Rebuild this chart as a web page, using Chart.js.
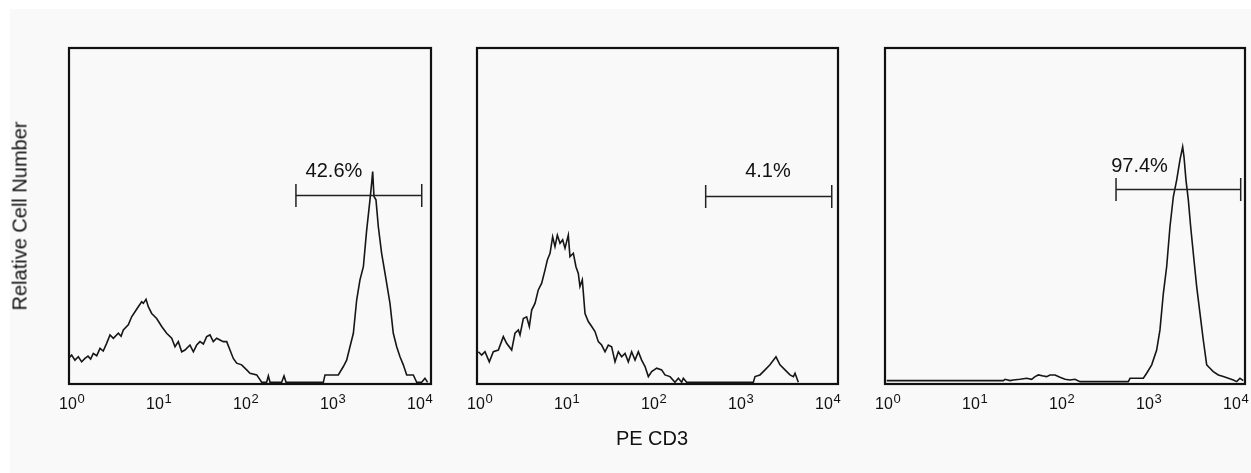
<!DOCTYPE html>
<html><head><meta charset="utf-8">
<script src="https://cdn.jsdelivr.net/npm/chart.js@4/dist/chart.umd.min.js"></script>
<style>
html,body{margin:0;padding:0;background:#fff;}
#fig{position:relative;width:1251px;height:473px;background:#fff;overflow:hidden;font-family:"Liberation Sans",Arial,sans-serif;}
#bg{position:absolute;left:10px;top:9px;right:0;bottom:0;background:#f9f9f9;}
canvas{position:absolute;}
#ytitle{position:absolute;left:20px;top:216px;transform:translate(-50%,-50%) rotate(-90deg);font-size:20px;white-space:nowrap;color:#111;}
#xtitle{position:absolute;left:652px;top:438px;transform:translate(-50%,-50%);font-size:20px;white-space:nowrap;color:#111;}
</style>
</head>
<body>
<div id="fig">
  <div id="bg"></div>
  <canvas id="c1"></canvas>
  <canvas id="c2"></canvas>
  <canvas id="c3"></canvas>
  <div id="ytitle">Relative Cell Number</div>
  <div id="xtitle">PE CD3</div>
</div>
<script>
// ---- data (x in decades of PE CD3 fluorescence, y = relative cell number, 0-100) ----
const tickExponents = [0, 1, 2, 3, 4];
const yAxisTitle = "Relative Cell Number";
const xAxisTitle = "PE CD3";

const p1Decade = [0.020,0.042,0.080,0.119,0.157,0.195,0.230,0.260,0.291,0.330,0.368,0.405,0.444,0.483,0.521,0.579,0.610,0.636,0.693,0.732,0.770,0.808,0.847,0.866,0.897,0.923,0.962,1.019,1.077,1.134,1.192,1.230,1.268,1.307,1.345,1.402,1.441,1.479,1.517,1.556,1.594,1.632,1.670,1.709,1.747,1.785,1.824,1.862,1.900,1.939,1.996,2.054,2.092,2.169,2.226,2.283,2.303,2.322,2.456,2.483,2.506,2.935,2.954,3.107,3.165,3.203,3.241,3.280,3.318,3.356,3.395,3.433,3.471,3.490,3.502,3.517,3.540,3.567,3.605,3.644,3.701,3.739,3.778,3.816,3.854,3.893,3.969,4.008,4.065,4.103,4.134];
const p1Count  = [8.0,8.6,7.1,8.1,6.6,7.6,8.3,7.4,9.1,8.4,10.6,9.8,12.1,14.6,13.6,15.1,14.2,16.1,17.6,20.0,21.5,23.0,24.5,24.0,25.2,23.0,21.0,19.5,17.1,15.1,13.6,11.1,12.6,9.6,10.1,11.6,9.6,11.6,12.6,11.9,14.1,14.6,12.6,13.6,13.1,12.6,12.6,10.1,7.6,6.2,5.7,4.2,3.2,2.7,0.5,0.5,2.4,0.5,0.5,2.4,0.5,0.5,2.7,2.7,5.2,7.1,11.1,15.1,25.0,31.0,34.9,45.8,54.8,59.7,63.2,55.8,54.8,46.8,38.9,32.9,24.0,15.1,11.1,8.1,5.7,2.7,2.7,0.5,0.5,1.7,0.5];

const p2Decade = [0.027,0.065,0.103,0.153,0.199,0.257,0.314,0.352,0.410,0.448,0.487,0.506,0.544,0.582,0.613,0.640,0.678,0.716,0.755,0.793,0.820,0.851,0.881,0.908,0.935,0.966,0.996,1.023,1.061,1.080,1.119,1.149,1.176,1.195,1.222,1.253,1.291,1.330,1.368,1.406,1.444,1.483,1.521,1.559,1.598,1.636,1.674,1.713,1.751,1.789,1.828,1.866,1.904,1.943,1.981,2.019,2.077,2.134,2.172,2.230,2.287,2.326,2.364,2.383,2.421,3.188,3.207,3.264,3.322,3.379,3.448,3.494,3.552,3.609,3.648,3.667,3.705];
const p2Count  = [9.6,8.6,9.6,6.6,9.6,10.1,14.1,12.1,10.1,15.1,16.1,14.6,19.5,20.0,17.1,22.0,24.0,28.0,30.0,33.9,36.9,38.9,43.8,40.9,44.3,41.9,42.9,40.4,44.3,37.9,38.9,34.9,32.9,29.0,31.0,21.0,18.6,17.1,15.6,12.6,11.6,9.6,11.6,11.1,6.6,9.6,8.1,9.1,6.6,9.6,7.1,9.6,7.1,5.2,2.2,3.7,4.7,4.2,2.7,2.2,0.5,1.7,0.5,1.7,0.5,0.5,2.2,2.7,4.2,5.7,8.1,5.7,4.2,2.7,2.2,3.2,0.5];

const p3Decade = [0.031,1.372,1.391,1.448,1.487,1.563,1.640,1.697,1.736,1.774,1.831,1.870,1.908,1.966,2.023,2.080,2.138,2.195,2.253,2.291,2.808,2.828,2.981,3.019,3.077,3.134,3.172,3.211,3.249,3.287,3.326,3.364,3.402,3.433,3.448,3.471,3.498,3.525,3.563,3.594,3.632,3.670,3.709,3.747,3.785,3.843,3.900,3.958,4.015,4.054,4.092,4.130];
const p3Count  = [1.0,1.0,1.4,1.0,1.2,1.4,1.7,1.4,2.2,2.7,2.4,2.2,2.7,2.7,2.0,1.4,1.2,1.4,0.7,0.7,0.7,1.7,1.7,3.2,5.7,10.1,16.1,27.0,34.9,46.8,55.8,60.7,66.7,70.6,67.7,60.7,54.8,46.8,36.9,29.0,21.0,13.1,5.7,4.7,3.7,2.7,2.2,1.7,1.2,0.7,1.7,1.0];

// gates: [left decade, right decade, level]
const gateLeft   = [2.620, 2.640, 2.667];
const gateRight  = [4.066, 4.089, 4.100];
const gateLevel  = [56.25, 55.95, 58.0];
const gateLabels = ["42.6%", "4.1%", "97.4%"];
const labelDecade = [3.057, 3.356, 2.937];
const labelLevel  = [61.6, 61.7, 63.2];

// ---- layout ----
const frames = [ {L:69, R:431}, {L:477, R:838}, {L:885, R:1245} ];
const TOP = 48, BOTTOM = 384, PAD = 40, CTOP = 30, CH = 430;

const facsPlugin = {
  id: 'facs',
  afterDatasetsDraw(chart, args, opts) {
    const ctx = chart.ctx, a = chart.chartArea;
    const xs = chart.scales.x, ys = chart.scales.y;
    ctx.save();
    // gate bar
    const gy = Math.round(ys.getPixelForValue(opts.level)) + 0.5;
    const gl = xs.getPixelForValue(Math.pow(10, opts.left));
    const gr = xs.getPixelForValue(Math.pow(10, opts.right));
    ctx.strokeStyle = '#222';
    ctx.lineWidth = 1.5;
    ctx.beginPath();
    ctx.moveTo(gl, gy); ctx.lineTo(gr, gy);
    ctx.moveTo(gl, gy - 11.5); ctx.lineTo(gl, gy + 11.5);
    ctx.moveTo(gr, gy - 11.5); ctx.lineTo(gr, gy + 11.5);
    ctx.stroke();
    // gate label
    ctx.fillStyle = '#111';
    ctx.font = '20px "Liberation Sans", Arial, sans-serif';
    ctx.textAlign = 'center';
    ctx.textBaseline = 'alphabetic';
    ctx.fillText(opts.label, xs.getPixelForValue(Math.pow(10, opts.labelX)), ys.getPixelForValue(opts.labelY));
    // frame
    ctx.strokeStyle = '#111';
    ctx.lineWidth = 2.2;
    ctx.strokeRect(a.left, a.top, a.right - a.left, a.bottom - a.top);
    // tick labels 10^n
    ctx.textAlign = 'left';
    for (const n of tickExponents) {
      const px = xs.getPixelForValue(Math.pow(10, n));
      ctx.font = '16px "Liberation Sans", Arial, sans-serif';
      const w = ctx.measureText('10').width;
      ctx.fillText('10', px - w / 2, a.bottom + 25);
      ctx.font = '13px "Liberation Sans", Arial, sans-serif';
      ctx.fillText(String(n), px + w / 2 + 0.5, a.bottom + 19);
    }
    ctx.restore();
  }
};

const panels = [
  {dec: p1Decade, cnt: p1Count},
  {dec: p2Decade, cnt: p2Count},
  {dec: p3Decade, cnt: p3Count}
];

panels.forEach((p, i) => {
  const f = frames[i];
  const cv = document.getElementById('c' + (i + 1));
  const w = (f.R - f.L) + 2 * PAD;
  cv.width = w; cv.height = CH;
  cv.style.left = (f.L - PAD) + 'px';
  cv.style.top = CTOP + 'px';
  cv.style.width = w + 'px'; cv.style.height = CH + 'px';
  const pts = p.dec.map((d, k) => ({x: Math.pow(10, d), y: p.cnt[k]}));
  const decPerPx = 1 / 87;
  new Chart(cv, {
    type: 'line',
    data: { datasets: [{
      data: pts,
      borderColor: '#161616',
      borderWidth: 1.6,
      pointRadius: 0,
      tension: 0,
      fill: false
    }]},
    options: {
      responsive: false,
      animation: false,
      events: [],
      layout: { padding: { left: PAD, right: PAD, top: TOP - CTOP, bottom: CH - (BOTTOM - CTOP) } },
      plugins: {
        legend: { display: false },
        tooltip: { enabled: false },
        facs: {
          left: gateLeft[i], right: gateRight[i], level: gateLevel[i],
          label: gateLabels[i], labelX: labelDecade[i], labelY: labelLevel[i]
        }
      },
      scales: {
        x: { type: 'logarithmic', display: false,
             min: Math.pow(10, decPerPx),
             max: Math.pow(10, decPerPx + (f.R - f.L) * decPerPx) },
        y: { type: 'linear', display: false, min: 0, max: 100 }
      }
    },
    plugins: [facsPlugin]
  });
});
</script>
</body></html>
